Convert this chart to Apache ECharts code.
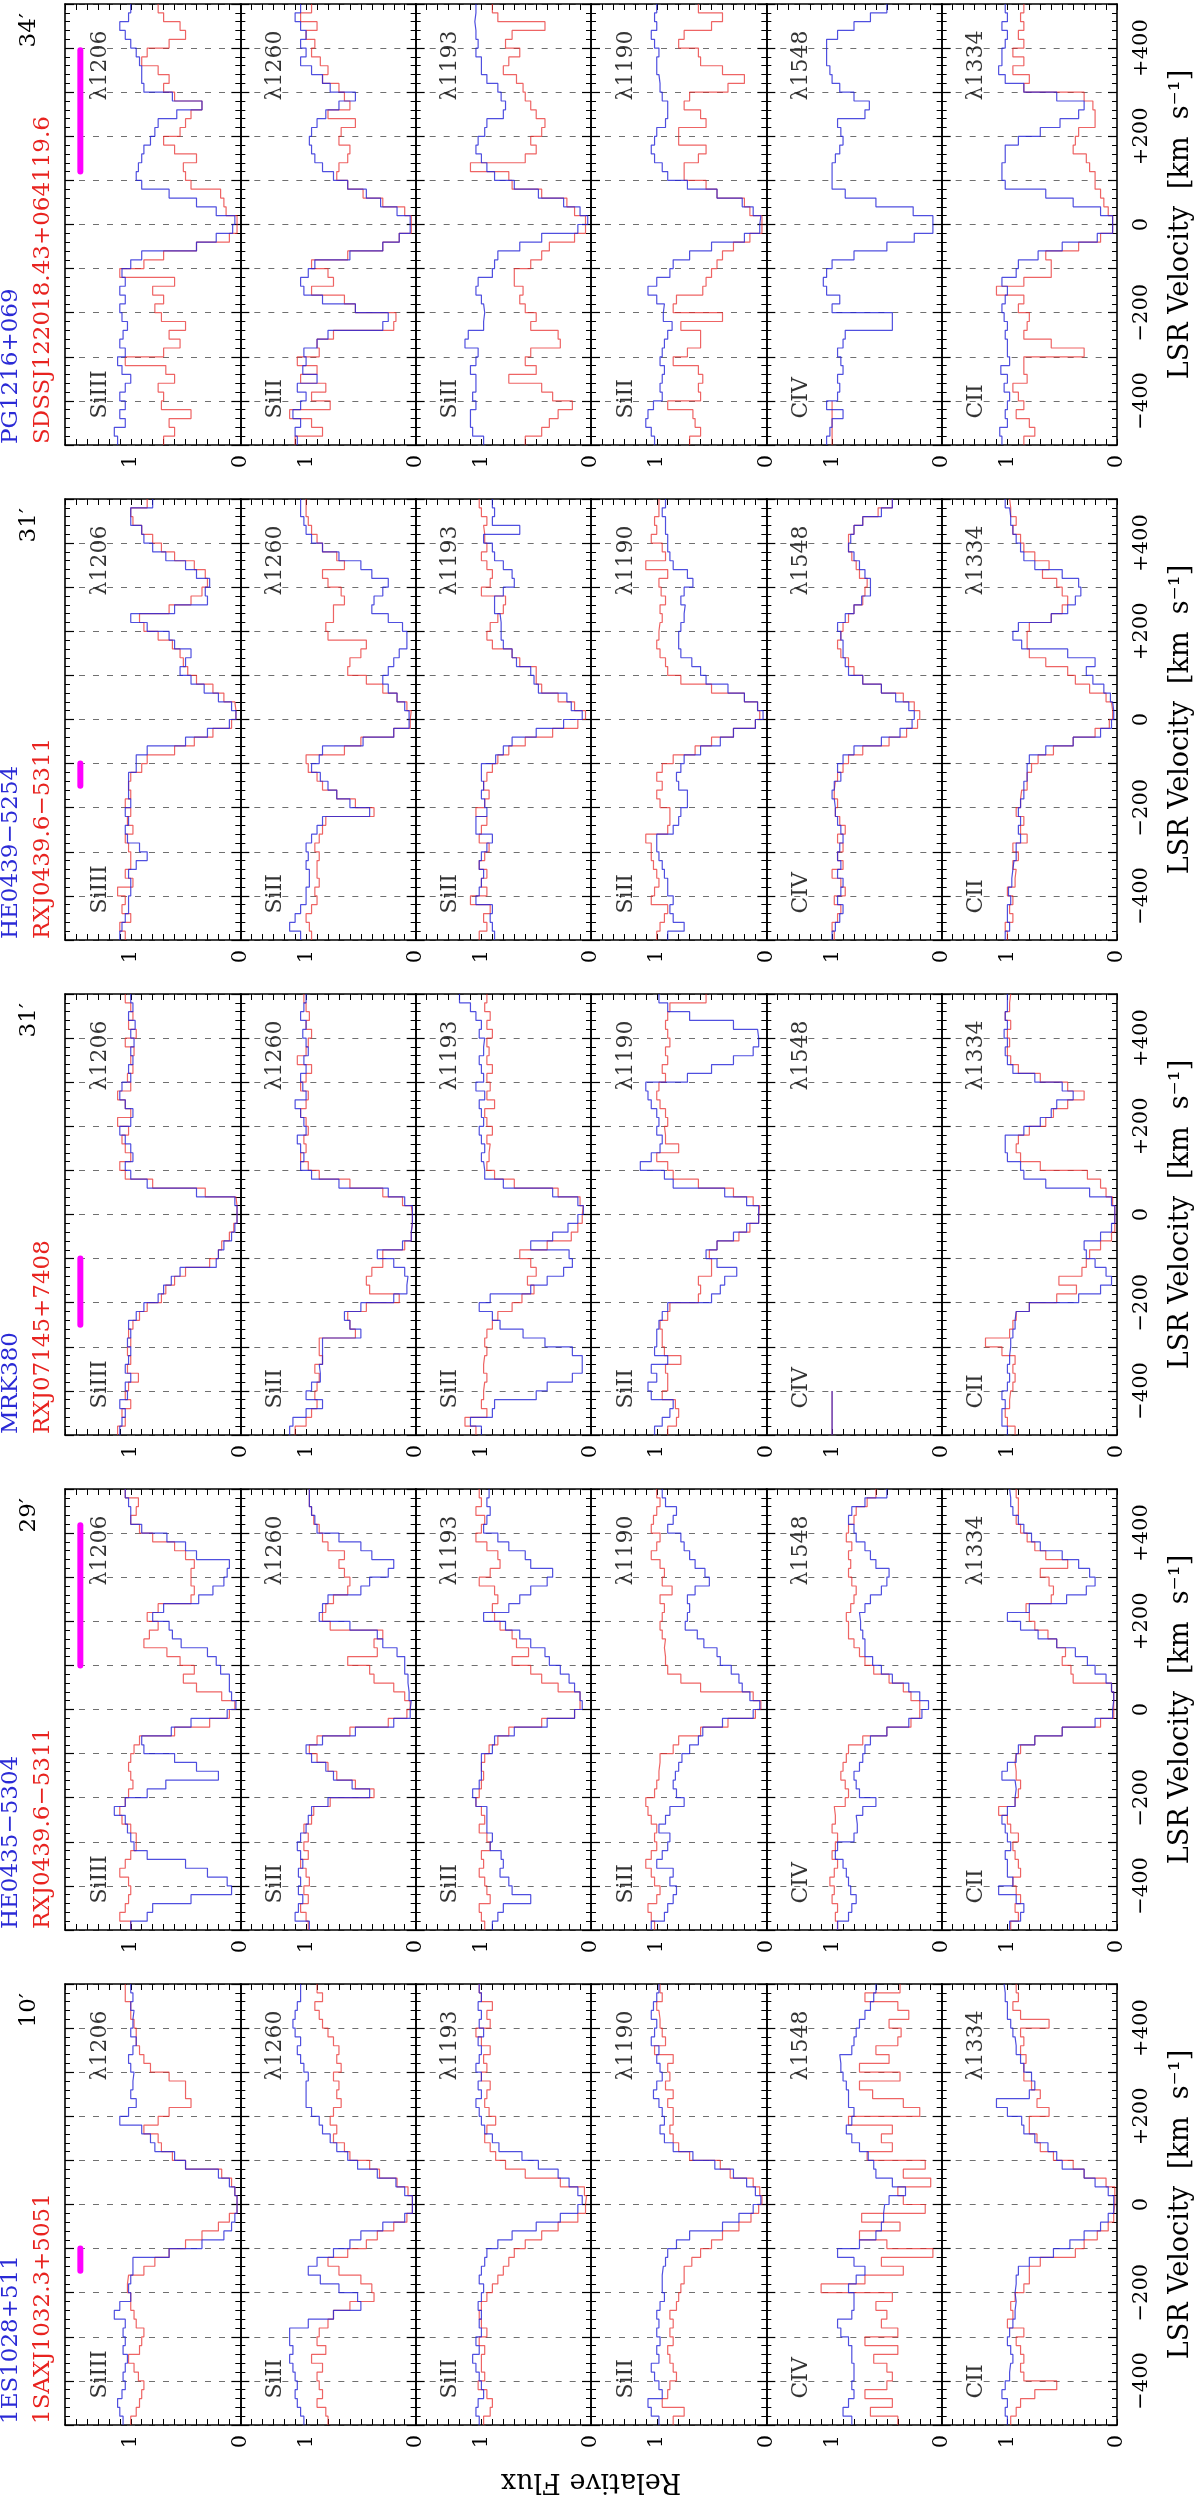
<!DOCTYPE html>
<html><head><meta charset="utf-8">
<script src="https://cdn.jsdelivr.net/npm/echarts@6/dist/echarts.min.js"></script>
<style>html,body{margin:0;padding:0;background:#fff}#c{width:1200px;height:2496px}</style>
</head><body><div id="c"></div>
<script>
// ---------------- labels ----------------
const quasarBlue = ['PG1216+069','HE0439\u22125254','MRK380','HE0435\u22125304','1ES1028+511'];
const quasarRed = ['SDSSJ122018.43+064119.6','RXJ0439.6\u22125311','RXJ07145+7408','RXJ0439.6\u22125311','1SAXJ1032.3+5051'];
const separations = ['34\u2032','31\u2032','31\u2032','29\u2032','10\u2032'];
const ionNames = ['SiIII','SiII','SiII','SiII','CIV','CII'];
const lineNames = ['\u03bb1206','\u03bb1260','\u03bb1193','\u03bb1190','\u03bb1548','\u03bb1334'];
const velTickValues = [-400,-200,0,200,400];
const velTickText = ['\u2212400','\u2212200','0','+200','+400'];
const fluxTickValues = [0,1];
const fluxTickText = ['0','1'];
const magentaBars = [[120,395],[-150,-100],[-250,-100],[100,418],[-150,-100]];

// ---------------- spectra: relative flux in 20 km/s bins from -500 km/s upward ----------------
// pair 1: PG1216+069 (blue) / SDSSJ122018.43+064119.6 (red)
const p1_SiIII1206_blue=[1.12,1.15,1.05,1.1,1.05,1.1,1.05,1.0,1.08,1.12, 1.05,1.1,1.07,1.03,1.08,1.1,1.05,1.1,1.05,1.08, 1.0,0.9,0.4,0.22,0.07,0.05,0.22,0.4,0.65,0.9, 0.95,0.93,0.9,0.88,0.82,0.78,0.75,0.58,0.35,0.62, 0.88,0.9,0.9,0.92,0.95,1.0,1.05,1.1,1.02,1.0];
const p1_SiIII1206_red=[0.7,0.6,0.65,0.45,0.72,0.7,0.75,0.6,0.68,1.05, 0.7,0.55,0.65,0.5,0.72,0.78,0.7,0.8,0.6,1.1, 0.88,0.7,0.4,0.1,0.03,0.03,0.13,0.15,0.18,0.45, 0.5,0.52,0.4,0.6,0.7,0.55,0.5,0.45,0.35,0.6, 0.7,0.65,0.75,0.9,0.85,0.65,0.5,0.55,0.7,0.75];
const p1_SiII1260_blue=[1.08,1.1,1.05,1.12,1.05,1.0,1.08,0.9,1.03,1.0, 1.02,0.9,0.8,0.3,0.25,0.55,0.85,1.02,1.05,0.98, 0.92,0.6,0.3,0.15,0.05,0.05,0.17,0.32,0.45,0.62, 0.75,0.85,0.92,0.95,0.97,0.95,0.9,0.82,0.7,0.55, 0.78,0.85,0.95,1.05,1.0,1.05,1.0,1.05,1.1,1.05];
const p1_SiII1260_red=[1.1,0.85,0.95,1.15,0.78,0.95,0.82,1.05,0.9,1.08, 0.88,0.9,0.75,0.2,0.18,0.55,0.65,0.95,0.75,0.8, 0.95,0.62,0.3,0.15,0.04,0.04,0.1,0.3,0.48,0.62, 0.72,0.7,0.62,0.6,0.7,0.68,0.55,0.8,0.6,0.65, 0.7,0.85,0.8,0.87,0.95,0.92,1.0,0.9,1.05,0.95];
const p1_SiII1193_blue=[0.98,1.08,1.1,1.1,1.05,1.08,1.05,1.05,1.1,1.05, 1.03,1.15,1.12,0.98,0.97,0.98,1.0,1.05,1.03,0.9, 0.88,0.85,0.65,0.45,0.12,0.03,0.1,0.25,0.48,0.7, 0.88,0.95,1.0,1.05,1.03,0.97,0.95,0.8,0.78,0.82, 0.85,0.95,1.0,1.0,1.05,1.03,1.05,1.06,1.05,1.05];
const p1_SiII1193_red=[0.6,0.45,0.38,0.3,0.17,0.35,0.45,0.75,0.5,0.6, 0.55,0.28,0.3,0.55,0.5,0.6,0.65,0.62,0.7,0.7, 0.55,0.45,0.38,0.15,0.05,0.05,0.15,0.22,0.45,0.72, 0.75,1.1,0.6,0.5,0.55,0.45,0.42,0.5,0.55,0.6, 0.62,0.68,0.8,0.75,0.65,0.78,0.72,0.42,0.85,0.9];
const p1_SiII1190_blue=[1.02,1.05,1.1,1.08,1.03,0.95,0.97,0.95,0.93,0.97, 0.95,0.93,0.9,0.86,0.94,0.93,1.0,1.08,1.0,0.88, 0.85,0.7,0.5,0.2,0.06,0.05,0.12,0.22,0.45,0.72, 0.9,0.95,1.02,1.05,1.02,1.0,0.92,0.9,0.9,0.95, 0.97,0.98,1.0,1.0,0.98,1.02,1.05,1.0,1.02,1.0];
const p1_SiII1190_red=[0.7,0.6,0.65,0.67,0.9,0.6,0.62,0.58,0.62,0.85, 0.72,0.6,0.6,0.78,0.4,0.85,0.82,0.58,0.55,0.5, 0.45,0.4,0.3,0.15,0.04,0.04,0.15,0.2,0.45,0.55, 0.75,0.75,0.62,0.55,0.8,0.8,0.55,0.6,0.75,0.7, 0.35,0.2,0.4,0.6,0.62,0.8,0.75,0.5,0.4,0.62];
const p1_CIV1548_blue=[1.05,1.02,1.0,0.9,1.05,0.95,0.93,0.95,0.9,0.92, 0.95,0.9,0.88,0.45,0.45,1.0,0.93,1.05,1.08,1.05, 1.0,0.8,0.5,0.25,0.08,0.08,0.26,0.6,0.88,1.0, 1.0,1.0,0.97,0.93,0.9,0.92,0.95,0.7,0.66,0.8, 0.93,1.0,1.02,1.05,1.05,1.05,0.95,0.8,0.65,0.5];
const p1_CIV1548_red=[1.0,1.0,1.0,1.0,1.0];
const p1_CII1334_blue=[1.05,1.07,1.0,1.02,1.0,0.98,1.03,1.0,1.06,0.98, 1.0,1.0,1.02,1.0,1.03,1.05,1.02,1.0,1.05,0.92, 0.9,0.72,0.5,0.18,0.04,0.04,0.15,0.4,0.65,1.02, 1.05,1.05,1.02,1.02,0.9,0.7,0.52,0.35,0.3,0.55, 0.85,1.02,1.08,1.05,1.05,1.02,1.0,1.05,1.0,1.02];
const p1_CII1334_red=[0.85,0.75,0.8,0.92,0.85,0.9,0.95,0.82,0.85,0.85, 0.3,0.6,0.85,0.82,0.8,0.9,0.85,1.1,0.85,0.6, 0.6,0.65,0.35,0.15,0.04,0.04,0.08,0.12,0.15,0.2, 0.2,0.25,0.28,0.4,0.38,0.35,0.2,0.2,0.22,0.3, 0.85,0.8,0.95,0.85,0.95,0.85,0.9,0.85,0.88,0.85];

// pair 2: HE0439-5254 (blue) / RXJ0439.6-5311 (red)
const p2_SiIII1206_blue=[1.1,1.08,1.05,1.02,1.02,1.0,1.0,1.02,0.95,0.85, 0.92,1.03,1.05,1.02,1.05,1.0,1.02,1.02,1.02,0.95, 0.95,0.85,0.5,0.3,0.1,0.04,0.08,0.2,0.33,0.45, 0.55,0.5,0.45,0.6,0.65,0.85,1.0,0.6,0.3,0.32, 0.28,0.4,0.5,0.68,0.8,0.88,0.9,1.0,1.0,0.8];
const p2_SiIII1206_red=[1.05,1.1,1.0,1.08,1.05,1.12,0.98,1.05,1.0,1.0, 1.02,1.05,0.98,1.03,1.0,1.05,1.0,1.02,1.0,0.9, 0.85,0.6,0.42,0.25,0.08,0.04,0.05,0.15,0.25,0.4, 0.48,0.52,0.55,0.62,0.75,0.88,0.92,0.65,0.45,0.35, 0.3,0.32,0.42,0.6,0.72,0.8,0.9,0.98,1.0,0.85];
const p2_SiII1260_blue=[1.05,1.15,1.1,1.05,1.0,1.0,0.97,0.97,1.0,0.98, 1.0,0.95,0.9,0.85,0.42,0.6,0.72,0.8,0.87,0.95, 0.88,0.85,0.48,0.2,0.06,0.06,0.1,0.17,0.25,0.3, 0.25,0.2,0.15,0.08,0.08,0.12,0.25,0.4,0.38,0.3, 0.25,0.4,0.5,0.7,0.85,0.95,1.0,1.02,1.05,1.05];
const p2_SiII1260_red=[0.95,0.97,1.0,0.95,0.9,0.92,0.88,0.9,0.9,0.88, 0.92,0.88,0.85,0.82,0.38,0.55,0.72,0.85,0.9,0.98, 1.0,0.65,0.5,0.2,0.05,0.04,0.08,0.17,0.3,0.45, 0.62,0.6,0.5,0.45,0.8,0.82,0.75,0.75,0.65,0.68, 0.8,0.85,0.65,0.72,0.85,0.9,0.95,0.98,1.0,1.0];
const p2_SiII1193_blue=[0.88,0.9,0.92,0.9,1.05,1.02,1.0,0.98,1.02,1.0, 0.95,0.9,1.05,1.05,0.95,0.97,1.0,0.98,1.0,1.0, 0.87,0.8,0.72,0.5,0.25,0.08,0.18,0.22,0.48,0.52, 0.55,0.68,0.72,0.8,0.82,0.82,0.83,0.88,0.88,0.8, 0.7,0.72,0.8,0.88,0.9,0.98,0.65,0.9,0.88,0.9];
const p2_SiII1193_red=[1.02,0.95,0.98,0.92,1.1,0.95,1.0,0.95,1.02,0.97, 0.93,1.02,1.0,0.95,1.05,0.97,0.93,0.98,0.95,0.9, 0.85,0.75,0.6,0.35,0.12,0.05,0.15,0.3,0.45,0.5, 0.5,0.65,0.72,0.9,0.95,0.92,0.85,0.8,0.78,1.0, 0.92,0.9,0.95,1.0,0.95,0.97,0.98,0.95,1.0,1.02];
const p2_SiII1190_blue=[0.9,0.75,0.85,0.88,0.85,0.9,0.9,0.93,0.95,0.98, 1.0,1.0,0.85,0.8,0.78,0.72,0.72,0.8,0.82,0.78, 0.75,0.6,0.42,0.3,0.1,0.03,0.08,0.2,0.35,0.55, 0.6,0.68,0.78,0.8,0.8,0.78,0.75,0.74,0.78,0.75, 0.67,0.72,0.85,0.88,0.9,0.9,0.92,0.92,0.95,0.92];
const p2_SiII1190_red=[1.0,0.97,0.93,0.9,1.05,1.02,0.98,1.0,1.03,1.05, 1.05,1.1,0.9,0.88,0.88,0.97,1.0,0.95,1.0,0.95, 0.85,0.65,0.5,0.3,0.1,0.06,0.08,0.2,0.5,0.78, 0.9,0.92,0.97,1.0,0.98,0.97,0.95,0.97,0.92,0.96, 0.98,0.9,1.1,0.92,0.95,1.05,1.0,1.02,0.98,0.98];
const p2_CIV1548_blue=[1.0,0.97,0.93,0.9,0.95,0.92,0.9,0.95,0.92,0.95, 0.93,0.9,0.92,0.95,0.97,0.98,1.0,0.98,0.92,0.95, 0.9,0.8,0.55,0.38,0.27,0.25,0.3,0.42,0.55,0.72, 0.85,0.88,0.9,0.9,0.92,0.95,0.88,0.8,0.73,0.65, 0.65,0.7,0.75,0.8,0.85,0.83,0.8,0.72,0.55,0.45];
const p2_CIV1548_red=[0.98,1.0,0.95,0.92,0.98,0.88,0.92,1.0,0.9,0.95, 0.9,0.95,0.88,0.93,0.97,0.95,0.98,0.97,0.95,0.9, 0.85,0.72,0.48,0.32,0.22,0.2,0.25,0.35,0.55,0.72, 0.8,0.85,0.92,0.95,0.92,0.9,0.85,0.8,0.72,0.7, 0.68,0.75,0.78,0.82,0.85,0.85,0.8,0.72,0.58,0.45];
const p2_CII1334_blue=[1.02,0.98,1.0,1.0,0.97,0.99,0.96,0.95,0.94,0.92, 0.92,0.88,0.9,0.88,0.9,0.88,0.85,0.85,0.82,0.82, 0.8,0.65,0.4,0.15,0.05,0.03,0.04,0.06,0.12,0.22, 0.28,0.2,0.45,0.87,0.95,0.9,0.6,0.45,0.38,0.33, 0.35,0.5,0.75,0.85,0.88,0.92,0.95,0.97,0.98,1.02];
const p2_CII1334_red=[1.0,1.02,0.95,0.98,0.95,1.0,0.93,0.92,0.95,0.9, 0.95,0.82,0.88,0.85,0.92,0.88,0.87,0.82,0.82,0.78, 0.72,0.58,0.4,0.2,0.07,0.04,0.05,0.1,0.25,0.38, 0.45,0.65,0.8,0.82,0.82,0.8,0.6,0.5,0.45,0.5, 0.55,0.68,0.62,0.75,0.85,0.88,0.95,0.92,0.97,0.98];

// pair 3: MRK380 (blue) / RXJ07145+7408 (red)
const p3_SiIII1206_blue=[1.1,1.08,1.05,1.1,1.03,1.05,1.0,1.05,1.02,1.0, 1.03,1.0,1.02,0.95,0.88,0.75,0.7,0.63,0.55,0.22, 0.2,0.15,0.08,0.05,0.03,0.03,0.05,0.4,0.85,1.0, 1.05,0.98,1.0,1.05,1.1,1.0,0.98,1.05,1.1,1.08, 1.0,1.02,0.98,1.0,0.97,1.0,0.96,1.02,0.98,1.0];
const p3_SiIII1206_red=[1.12,1.05,1.08,1.0,1.05,1.02,0.93,1.03,1.0,1.03, 1.0,1.02,0.98,0.92,0.85,0.72,0.68,0.6,0.5,0.28, 0.2,0.17,0.1,0.06,0.03,0.03,0.04,0.32,0.8,1.05, 1.1,1.0,1.05,1.08,1.02,1.12,1.0,1.05,1.12,1.0, 1.03,0.98,1.0,0.97,1.05,0.95,1.02,0.98,1.0,1.05];
const p3_SiII1260_blue=[1.15,1.12,1.0,0.85,1.0,0.95,0.87,0.88,0.85,0.85, 0.85,0.5,0.6,0.65,0.5,0.2,0.08,0.07,0.1,0.2, 0.35,0.12,0.04,0.03,0.03,0.03,0.1,0.25,0.7,0.95, 1.05,1.02,1.05,1.08,1.0,1.02,1.05,1.1,1.0,1.03, 1.05,1.0,1.02,0.98,1.0,1.03,1.0,1.05,1.02,1.0];
const p3_SiII1260_red=[1.1,1.0,0.95,0.9,0.92,0.9,0.88,0.92,0.85,0.88, 0.88,0.55,0.6,0.62,0.45,0.15,0.42,0.45,0.4,0.3, 0.3,0.1,0.04,0.03,0.03,0.04,0.12,0.3,0.6,0.88, 0.98,1.05,1.0,1.02,0.98,1.0,1.05,1.0,0.98,1.05, 1.0,0.95,1.08,1.0,0.98,0.95,1.0,0.97,1.0,1.02];
const p3_SiII1193_blue=[1.0,1.1,0.9,0.88,0.5,0.4,0.17,0.08,0.08,0.17, 0.42,0.62,0.83,0.9,1.02,0.92,0.55,0.4,0.25,0.17, 0.2,0.55,0.35,0.21,0.12,0.07,0.12,0.35,0.8,0.97, 0.98,1.0,0.97,1.0,1.02,0.98,1.0,1.02,0.97,1.05, 0.98,1.0,1.02,0.98,0.97,1.02,1.0,1.05,1.1,1.2];
const p3_SiII1193_red=[1.05,1.15,0.95,1.0,0.98,0.97,0.95,0.98,0.97,0.95, 0.97,0.95,0.9,0.85,0.72,0.63,0.52,0.58,0.5,0.55, 0.65,0.4,0.18,0.12,0.08,0.07,0.1,0.3,0.7,0.88, 0.95,0.93,0.92,0.95,0.9,0.95,0.97,0.88,0.95,0.92, 0.95,0.9,0.95,0.93,0.95,0.9,0.95,0.92,0.97,0.95];
const p3_SiII1190_blue=[1.02,0.95,0.88,0.85,1.05,1.08,1.0,1.05,0.9,1.02, 1.0,1.0,0.98,0.95,0.9,0.5,0.42,0.38,0.27,0.45, 0.55,0.45,0.3,0.18,0.07,0.07,0.18,0.38,0.85,0.93, 1.15,1.05,0.97,0.95,1.0,0.98,1.0,1.05,1.08,1.1, 0.72,0.5,0.3,0.12,0.07,0.08,0.3,0.7,0.9,0.98];
const p3_SiII1190_red=[0.9,0.82,0.8,0.83,0.95,0.9,0.9,0.92,0.78,0.93, 0.95,0.95,0.97,0.9,0.88,0.62,0.6,0.62,0.5,0.5, 0.52,0.45,0.25,0.15,0.07,0.06,0.12,0.3,0.62,0.85, 0.9,1.0,0.8,0.92,0.93,0.9,0.92,0.97,1.0,0.98, 0.92,0.95,0.9,0.92,0.88,0.9,0.92,0.9,0.88,0.55];
const p3_CIV1548_blue=[1.0,1.0,1.0,1.0,1.0];
const p3_CIV1548_red=[1.0,1.0,1.0,1.0,1.0];
const p3_CII1334_blue=[1.0,1.05,1.05,1.02,1.05,1.0,0.98,1.0,0.98,0.97, 0.97,0.95,0.93,0.92,0.8,0.35,0.15,0.05,0.1,0.2, 0.28,0.3,0.15,0.05,0.02,0.02,0.05,0.25,0.65,0.85, 0.88,1.0,1.02,1.02,0.85,0.7,0.6,0.55,0.4,0.5, 0.75,0.95,1.0,1.02,1.0,1.03,1.0,1.02,1.0,1.0];
const p3_CII1334_red=[0.93,1.0,1.02,0.98,0.97,0.95,0.93,0.95,0.93,1.05, 1.2,0.98,0.95,0.92,0.8,0.55,0.37,0.53,0.32,0.28, 0.25,0.15,0.05,0.02,0.02,0.02,0.04,0.1,0.15,0.27, 0.7,0.88,0.92,0.9,0.8,0.65,0.58,0.45,0.3,0.45, 0.7,0.9,0.97,1.0,0.98,1.0,0.97,1.02,0.98,0.97];

// pair 4: HE0435-5304 (blue) / RXJ0439.6-5311 (red)
const p4_SiIII1206_blue=[1.0,0.85,0.8,0.45,0.08,0.12,0.3,0.5,0.85,0.97, 1.0,1.03,1.05,1.15,1.05,0.85,0.68,0.2,0.4,0.6, 0.88,0.9,0.63,0.45,0.12,0.04,0.08,0.1,0.1,0.18, 0.22,0.3,0.54,0.62,0.65,0.8,0.7,0.38,0.25,0.15, 0.12,0.1,0.4,0.5,0.67,0.9,1.0,1.0,1.02,1.05];
const p4_SiIII1206_red=[1.0,1.1,1.05,1.02,1.0,1.02,1.1,1.05,1.0,0.95, 0.95,1.0,1.08,1.1,1.05,1.02,0.98,1.0,1.02,1.0, 0.97,0.92,0.6,0.28,0.1,0.05,0.17,0.4,0.52,0.42, 0.55,0.67,0.88,0.83,0.75,0.85,0.75,0.45,0.42,0.45, 0.45,0.42,0.5,0.6,0.8,0.92,1.0,0.95,0.93,1.05];
const p4_SiII1260_blue=[0.97,1.1,1.07,1.03,1.07,1.05,1.07,1.03,1.05,1.08, 1.05,1.0,0.98,0.95,0.8,0.42,0.58,0.75,0.82,0.95, 1.0,0.85,0.55,0.2,0.05,0.04,0.06,0.07,0.07,0.1, 0.1,0.17,0.3,0.35,0.6,0.88,0.85,0.8,0.5,0.42, 0.25,0.2,0.4,0.5,0.7,0.9,0.92,0.95,0.97,0.97];
const p4_SiII1260_red=[0.98,1.0,1.05,0.98,1.02,0.97,1.0,1.05,0.98,1.02, 0.98,1.02,0.95,0.93,0.78,0.38,0.55,0.72,0.8,0.9, 0.97,0.9,0.6,0.25,0.08,0.05,0.1,0.2,0.38,0.42, 0.62,0.35,0.38,0.3,0.78,0.85,0.82,0.75,0.62,0.6, 0.65,0.7,0.65,0.8,0.85,0.88,0.93,0.95,0.97,0.97];
const p4_SiII1193_blue=[0.9,0.85,0.8,0.55,0.72,0.75,0.83,0.8,0.82,0.92, 0.9,0.95,0.95,0.95,1.05,1.08,1.02,1.0,1.0,1.0, 0.9,0.88,0.7,0.4,0.15,0.08,0.1,0.15,0.2,0.28, 0.38,0.42,0.55,0.65,0.78,0.98,0.75,0.65,0.55,0.4, 0.35,0.55,0.6,0.75,0.85,0.98,0.95,0.92,0.95,0.93];
const p4_SiII1193_red=[0.97,1.0,1.02,0.92,0.95,0.97,1.02,0.98,1.0,0.92, 0.95,1.02,0.97,1.0,1.05,1.02,1.0,0.98,1.0,0.97, 0.93,0.85,0.75,0.45,0.15,0.1,0.1,0.3,0.45,0.55, 0.72,0.57,0.68,0.72,0.83,0.88,0.9,0.85,0.88,1.02, 0.92,0.83,0.85,0.95,1.05,1.0,0.97,1.05,1.0,1.02];
const p4_SiII1190_blue=[1.05,0.93,0.9,0.85,0.82,0.88,0.85,1.0,0.95,0.9, 0.88,0.98,0.92,0.88,0.75,0.82,0.85,0.83,0.8,0.77, 0.7,0.62,0.58,0.4,0.12,0.06,0.15,0.22,0.25,0.32, 0.42,0.45,0.57,0.63,0.74,0.72,0.7,0.72,0.65,0.52, 0.56,0.65,0.7,0.75,0.78,0.9,0.85,0.82,0.92,0.95];
const p4_SiII1190_red=[1.02,1.05,1.08,1.0,0.97,1.02,1.05,1.1,1.05,1.0, 1.02,1.0,1.05,1.08,1.1,1.02,1.0,0.98,0.97,0.97, 0.85,0.8,0.6,0.35,0.1,0.05,0.12,0.6,0.78,0.9, 0.92,0.93,0.92,0.95,0.97,0.95,0.93,0.97,0.86,0.95, 0.93,0.97,1.05,1.0,0.97,1.05,1.03,1.0,0.97,1.0];
const p4_CIV1548_blue=[0.95,0.85,0.82,0.78,0.83,0.85,0.87,0.9,0.97,0.95, 0.8,0.77,0.78,0.72,0.6,0.75,0.78,0.8,0.75,0.72, 0.7,0.65,0.5,0.3,0.18,0.12,0.2,0.3,0.45,0.55, 0.63,0.7,0.7,0.72,0.74,0.75,0.7,0.65,0.55,0.5, 0.48,0.6,0.65,0.7,0.78,0.8,0.85,0.82,0.7,0.5];
const p4_CIV1548_red=[0.95,0.97,0.95,1.0,0.98,1.02,0.98,0.95,1.0,0.97, 0.95,1.0,0.97,0.98,0.88,0.85,0.88,0.92,0.9,0.87, 0.85,0.72,0.5,0.28,0.2,0.2,0.28,0.35,0.48,0.62, 0.7,0.75,0.8,0.85,0.85,0.87,0.83,0.8,0.78,0.82, 0.85,0.83,0.85,0.82,0.87,0.85,0.8,0.78,0.68,0.6];
const p4_CII1334_blue=[0.98,0.88,0.85,0.92,1.08,0.95,1.0,1.0,1.02,0.97, 1.0,1.02,1.05,1.0,0.93,0.92,0.93,1.05,1.0,0.92, 0.9,0.75,0.5,0.2,0.04,0.03,0.03,0.05,0.1,0.2, 0.27,0.38,0.55,0.72,0.88,1.0,0.8,0.46,0.28,0.2, 0.25,0.35,0.5,0.7,0.78,0.85,0.9,0.95,0.97,0.98];
const p4_CII1334_red=[0.97,0.9,0.93,0.88,0.92,0.95,0.88,0.9,0.93,0.95, 0.9,0.97,1.0,1.08,0.93,0.9,0.88,0.92,0.93,0.92, 0.88,0.75,0.5,0.15,0.03,0.03,0.03,0.05,0.4,0.42, 0.5,0.47,0.55,0.63,0.75,0.8,0.83,0.6,0.58,0.62, 0.7,0.45,0.65,0.75,0.82,0.88,0.92,0.9,0.9,0.92];

// pair 5: 1ES1028+511 (blue) / 1SAXJ1032.3+5051 (red)
const p5_SiIII1206_blue=[1.07,1.1,1.12,1.08,1.05,1.07,1.05,1.03,1.07,1.05, 1.07,1.05,1.15,1.1,1.0,1.02,1.0,0.98,0.98,0.65, 0.35,0.15,0.08,0.05,0.03,0.03,0.05,0.1,0.2,0.5, 0.6,0.78,0.82,0.9,1.1,1.02,0.95,1.0,0.98,0.97, 1.0,1.02,0.98,0.95,1.0,0.98,0.97,1.0,0.98,1.0];
const p5_SiIII1206_red=[1.0,0.95,0.92,0.9,0.88,0.93,0.97,1.02,0.92,0.9, 0.88,0.95,0.97,1.0,1.0,1.03,1.02,0.88,0.78,0.65, 0.5,0.35,0.2,0.1,0.03,0.03,0.05,0.08,0.17,0.5, 0.62,0.72,0.75,0.88,0.75,0.65,0.45,0.5,0.5,0.65, 0.82,0.88,0.92,0.95,0.95,0.97,1.0,1.0,1.05,1.05];
const p5_SiII1260_blue=[1.02,1.05,1.08,1.1,1.08,1.1,1.12,1.15,1.12,1.15, 1.15,0.98,0.75,0.5,0.53,0.7,0.87,0.98,0.9,0.75, 0.6,0.5,0.3,0.1,0.03,0.03,0.1,0.18,0.35,0.53, 0.62,0.72,0.78,0.85,0.88,0.95,1.0,1.0,1.0,0.98, 1.02,1.05,1.08,1.05,1.1,1.12,1.1,1.08,1.05,1.05];
const p5_SiII1260_red=[0.8,0.82,0.9,0.85,0.88,0.9,0.85,0.95,0.82,0.9, 0.88,0.8,0.75,0.6,0.38,0.4,0.5,0.7,0.8,0.62, 0.45,0.35,0.2,0.08,0.03,0.03,0.07,0.17,0.33,0.42, 0.6,0.65,0.75,0.72,0.78,0.75,0.68,0.72,0.7,0.75, 0.68,0.72,0.7,0.75,0.8,0.85,0.88,0.92,0.85,0.9];
const p5_SiII1193_blue=[1.02,1.05,1.03,0.98,1.0,1.02,1.05,1.08,1.02,1.05, 1.0,1.02,1.0,1.03,1.0,0.98,1.02,1.0,0.97,0.95, 0.85,0.72,0.5,0.28,0.12,0.08,0.12,0.2,0.3,0.48, 0.63,0.84,0.9,0.97,1.0,1.02,1.05,1.0,1.03,1.0, 1.05,1.02,1.0,1.03,0.98,1.02,1.0,1.03,1.0,1.02];
const p5_SiII1193_red=[0.98,0.92,0.9,0.95,1.03,0.97,1.0,1.0,0.97,1.02, 0.95,1.0,1.02,1.0,0.95,0.9,0.85,0.8,0.75,0.7, 0.6,0.45,0.3,0.12,0.05,0.04,0.06,0.28,0.6,0.78, 0.87,0.92,0.97,0.95,0.87,0.93,0.97,0.95,0.92,1.0, 0.95,0.98,0.92,1.0,1.05,0.92,0.95,0.9,1.0,1.02];
const p5_SiII1190_blue=[0.98,1.05,1.08,0.95,0.98,1.02,1.05,0.98,1.0,0.97, 1.0,0.98,1.0,0.97,0.93,0.95,0.95,0.94,0.92,0.9, 0.82,0.7,0.4,0.25,0.12,0.05,0.1,0.18,0.3,0.47, 0.67,0.85,0.93,0.97,0.93,0.95,0.98,1.03,1.0,0.95, 0.97,1.0,0.98,1.05,1.02,1.0,1.05,1.03,1.0,0.98];
const p5_SiII1190_red=[0.85,0.75,0.95,0.9,0.88,0.82,0.85,0.88,0.9,0.85, 0.88,0.85,0.88,0.82,0.8,0.78,0.75,0.75,0.68,0.6, 0.5,0.4,0.25,0.14,0.07,0.04,0.06,0.12,0.33,0.42, 0.7,0.8,0.85,0.88,0.85,0.85,0.9,0.85,0.92,0.88, 0.9,0.85,1.02,0.92,0.95,0.97,0.98,1.0,0.95,0.97];
const p5_CIV1548_blue=[0.82,0.9,0.85,0.8,0.82,0.8,0.8,0.82,0.82,0.85, 0.92,0.95,0.82,0.8,0.8,0.85,0.78,0.7,0.8,0.95, 0.75,0.6,0.55,0.53,0.52,0.48,0.33,0.45,0.6,0.62, 0.67,0.75,0.82,0.87,0.82,0.8,0.85,0.85,0.87,0.9, 0.92,0.93,0.82,0.8,0.78,0.75,0.7,0.65,0.62,0.6];
const p5_CIV1548_red=[0.4,0.65,0.45,0.7,0.5,0.45,0.5,0.62,0.4,0.7, 0.4,0.55,0.5,0.6,0.45,1.1,0.7,0.35,0.55,0.08, 0.5,0.75,0.38,0.73,0.15,0.35,0.4,0.1,0.35,0.15, 0.68,0.45,0.55,0.45,0.85,0.2,0.35,0.63,0.75,0.38, 0.75,0.48,0.6,0.4,0.37,0.48,0.3,0.4,0.7,0.38];
const p5_CII1334_blue=[1.0,1.02,1.0,1.05,1.02,0.98,0.97,0.95,0.97,1.0, 0.98,0.95,0.93,0.92,0.93,0.92,0.92,0.9,0.8,0.58, 0.43,0.3,0.15,0.08,0.03,0.03,0.08,0.2,0.3,0.5, 0.55,0.63,0.75,0.85,0.87,1.0,1.1,0.8,0.75,0.78, 0.85,0.88,0.92,0.93,0.95,0.97,1.0,1.0,1.02,1.03];
const p5_CII1334_red=[0.97,0.92,0.88,0.75,0.55,0.85,0.88,0.85,0.88,0.92, 0.85,1.0,0.95,0.97,0.93,0.85,0.8,0.8,0.7,0.38, 0.3,0.18,0.08,0.03,0.02,0.02,0.02,0.1,0.3,0.4, 0.58,0.7,0.73,0.8,0.8,0.62,0.73,0.7,0.78,0.85, 0.85,0.83,0.88,0.85,0.88,0.62,0.88,0.95,0.9,0.92];

const pairSpectra = [
  [[p1_SiIII1206_blue,p1_SiIII1206_red],[p1_SiII1260_blue,p1_SiII1260_red],[p1_SiII1193_blue,p1_SiII1193_red],[p1_SiII1190_blue,p1_SiII1190_red],[p1_CIV1548_blue,p1_CIV1548_red],[p1_CII1334_blue,p1_CII1334_red]],
  [[p2_SiIII1206_blue,p2_SiIII1206_red],[p2_SiII1260_blue,p2_SiII1260_red],[p2_SiII1193_blue,p2_SiII1193_red],[p2_SiII1190_blue,p2_SiII1190_red],[p2_CIV1548_blue,p2_CIV1548_red],[p2_CII1334_blue,p2_CII1334_red]],
  [[p3_SiIII1206_blue,p3_SiIII1206_red],[p3_SiII1260_blue,p3_SiII1260_red],[p3_SiII1193_blue,p3_SiII1193_red],[p3_SiII1190_blue,p3_SiII1190_red],[p3_CIV1548_blue,p3_CIV1548_red],[p3_CII1334_blue,p3_CII1334_red]],
  [[p4_SiIII1206_blue,p4_SiIII1206_red],[p4_SiII1260_blue,p4_SiII1260_red],[p4_SiII1193_blue,p4_SiII1193_red],[p4_SiII1190_blue,p4_SiII1190_red],[p4_CIV1548_blue,p4_CIV1548_red],[p4_CII1334_blue,p4_CII1334_red]],
  [[p5_SiIII1206_blue,p5_SiIII1206_red],[p5_SiII1260_blue,p5_SiII1260_red],[p5_SiII1193_blue,p5_SiII1193_red],[p5_SiII1190_blue,p5_SiII1190_red],[p5_CIV1548_blue,p5_CIV1548_red],[p5_CII1334_blue,p5_CII1334_red]]
];

// ---------------- layout & style ----------------
const FONT = 'DejaVu Serif';
const PANEL_LEFT = 65, PANEL_W = 1052/6, BLOCK_TOP = 4, BLOCK_STEP = 495, BLOCK_H = 441;
const V_MIN = -500, V_MAX = 500, BIN = 20, F_MAX = 1.6;
const BLUE = 'rgba(35,35,215,0.8)', RED = 'rgba(232,40,40,0.72)';
const NAME_BLUE = '#2a2ad6', NAME_RED = '#e8231f';
const LABEL_FLUX = 1.28, LABEL_VEL = 440, BAR_FLUX = 1.46;

function stepPoints(vals){
  const pts = [];
  vals.forEach((f,i) => { const v0 = V_MIN + i*BIN; pts.push([f, v0], [f, v0 + BIN]); });
  return pts;
}
function fluxAxis(gi, pos, labels){
  return {gridIndex: gi, type:'value', position: pos, min:0, max:F_MAX, interval:0.1, inverse:true,
    axisLine:{show:true, onZero:false, lineStyle:{color:'#000', width:1.6}},
    axisTick:{show:true, inside:true, length:6, lineStyle:{color:'#000', width:1}},
    splitLine:{show:false},
    axisLabel:{show:labels, rotate:90, margin:10, fontFamily:FONT, fontSize:21, color:'#000',
      formatter: v => { const k = fluxTickValues.findIndex(t => Math.abs(t - v) < 1e-6); return k >= 0 ? fluxTickText[k] : ''; }}
  };
}
function velAxis(gi, pos, labels){
  const ax = {gridIndex: gi, type:'value', position: pos, min:V_MIN, max:V_MAX, interval:100,
    axisLine:{show:true, onZero:false, lineStyle:{color:'#000', width:1.6}},
    axisTick:{show:true, inside:true, length:9, lineStyle:{color:'#000', width:1.2}},
    minorTick:{show:true, splitNumber:5, length:5, lineStyle:{color:'#000', width:1}},
    splitLine:{show: pos === 'left', lineStyle:{color:'#707070', width:1, type:[6,8]}},
    axisLabel:{show:labels, rotate:90, margin:14, fontFamily:FONT, fontSize:21, color:'#000',
      formatter: v => { const k = velTickValues.indexOf(Math.round(v)); return k >= 0 ? velTickText[k] : ''; }}
  };
  if (labels) {
    ax.name = 'LSR Velocity  [km  s\u207b\u00b9]';
    ax.nameLocation = 'middle'; ax.nameGap = 50; ax.nameRotate = 90; ax.nameMoveOverlap = false;
    ax.nameTextStyle = {fontFamily:FONT, fontSize:27, color:'#000'};
  }
  return ax;
}

const grids = [], xAxes = [], yAxes = [], series = [], graphics = [];
for (let b = 0; b < 5; b++) {
  const top = BLOCK_TOP + b*BLOCK_STEP;
  for (let p = 0; p < 6; p++) {
    const gi = b*6 + p;
    grids.push({left: PANEL_LEFT + p*PANEL_W, top: top, width: PANEL_W, height: BLOCK_H, containLabel:false, outerBoundsMode:'none'});
    xAxes.push(fluxAxis(gi, 'bottom', true));
    xAxes.push(fluxAxis(gi, 'top', false));
    yAxes.push(velAxis(gi, 'left', false));
    yAxes.push(velAxis(gi, 'right', p === 5));
    const xi = gi*2, yi = gi*2;
    const [blueVals, redVals] = pairSpectra[b][p];
    series.push({type:'line', xAxisIndex:xi, yAxisIndex:yi, data: stepPoints(redVals), symbol:'none', showSymbol:false, silent:true,
      lineStyle:{color:RED, width:1.2}, z:2});
    series.push({type:'line', xAxisIndex:xi, yAxisIndex:yi, data: stepPoints(blueVals), symbol:'none', showSymbol:false, silent:true,
      lineStyle:{color:BLUE, width:1.2}, z:3});
    series.push({type:'scatter', xAxisIndex:xi, yAxisIndex:yi, symbolSize:1, silent:true, itemStyle:{color:'rgba(0,0,0,0)'}, z:5,
      data:[{value:[LABEL_FLUX, -LABEL_VEL], label:{formatter: ionNames[p], align:'left'}},
            {value:[LABEL_FLUX, LABEL_VEL], label:{formatter: lineNames[p], align:'right'}}],
      label:{show:true, position:'inside', rotate:90, verticalAlign:'middle', fontFamily:FONT, fontSize:22, color:'#000'}});
    if (p === 0) {
      const bar = magentaBars[b];
      series.push({type:'line', xAxisIndex:xi, yAxisIndex:yi, data:[[BAR_FLUX, bar[0]],[BAR_FLUX, bar[1]]], symbol:'none', showSymbol:false, silent:true,
        lineStyle:{color:'#ff00ff', width:6, cap:'round'}, z:4});
    }
  }
  const bottom = top + BLOCK_H;
  graphics.push({type:'text', x:11, y:bottom - 1, rotation:Math.PI/2,
    style:{text:quasarBlue[b], fill:NAME_BLUE, fontFamily:FONT, fontSize:23, align:'left', textAlign:'left', verticalAlign:'middle', textVerticalAlign:'middle'}});
  graphics.push({type:'text', x:43, y:bottom - 1, rotation:Math.PI/2,
    style:{text:quasarRed[b], fill:NAME_RED, fontFamily:FONT, fontSize:23, align:'left', textAlign:'left', verticalAlign:'middle', textVerticalAlign:'middle'}});
  graphics.push({type:'text', x:29, y:top + 9, rotation:Math.PI/2,
    style:{text:separations[b], fill:'#000', fontFamily:FONT, fontSize:23, align:'right', textAlign:'right', verticalAlign:'middle', textVerticalAlign:'middle'}});
}
graphics.push({type:'text', x:591, y:2481, rotation:Math.PI,
  style:{text:'Relative Flux', fill:'#000', fontFamily:FONT, fontSize:27, align:'center', textAlign:'center', verticalAlign:'middle', textVerticalAlign:'middle'}});

const chart = echarts.init(document.getElementById('c'), null, {renderer:'canvas', width:1200, height:2496});
chart.setOption({
  animation:false,
  backgroundColor:'#ffffff',
  grid: grids, xAxis: xAxes, yAxis: yAxes, series: series, graphic: graphics
});
</script>
</body></html>
